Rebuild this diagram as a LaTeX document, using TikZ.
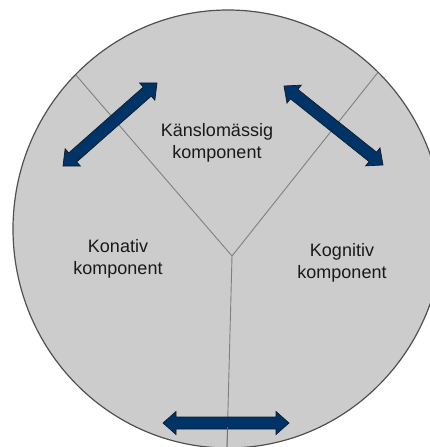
\documentclass[tikz,border=0pt]{standalone}
\usepackage{fontspec}
\setmainfont{Liberation Sans}
\usetikzlibrary{calc}
\definecolor{disc}{RGB}{204,204,204}
\definecolor{rim}{RGB}{80,80,80}
\definecolor{divider}{RGB}{128,128,128}
\definecolor{navy}{RGB}{0,51,102}
\definecolor{navyedge}{RGB}{15,28,45}
\tikzset{
  arrowbody/.style={fill=navy, draw=navyedge, line width=0.7pt, line join=miter},
  rimline/.style={draw=rim, line width=1.2pt},
  divline/.style={draw=divider, line width=0.9pt},
  label/.style={align=center, font=\fontsize{18}{22}\selectfont, text=black!90, inner sep=0pt}
}
\newcommand\blockarrow[2]{%
  \path ($(#1)!13pt!(#2)$) coordinate (#1h) ($(#2)!13pt!(#1)$) coordinate (#2h);
  \filldraw[arrowbody] (#1) -- ($(#1h)!11.5pt!90:(#2)$) -- ($(#1h)!6pt!90:(#2)$)
    -- ($(#2h)!6pt!-90:(#1)$) -- ($(#2h)!11.5pt!-90:(#1)$) -- (#2)
    -- ($(#2h)!11.5pt!90:(#1)$) -- ($(#2h)!6pt!90:(#1)$)
    -- ($(#1h)!6pt!-90:(#2)$) -- ($(#1h)!11.5pt!-90:(#2)$) -- cycle;}
\begin{document}
\begin{tikzpicture}[x=1pt,y=-1pt]
\useasboundingbox (0,0) rectangle (430,447);
\clip (0,0) rectangle (430,447);
\coordinate (c) at (228,229);
\fill[disc] (c) ellipse [x radius=215pt, y radius=219pt];
\coordinate (j) at (232,256);
\coordinate (lend) at (29,20.7);
\coordinate (rend) at (419,20.7);
\coordinate (bend) at (226.4,470);
\begin{scope}
  \clip (c) ellipse [x radius=215pt, y radius=219pt];
  \draw[divline] (lend) -- (j) -- (rend);
  \draw[divline] (j) -- (bend);
\end{scope}
\draw[rimline] (c) ellipse [x radius=215pt, y radius=219pt];
\coordinate (a1) at (63,166);
\coordinate (a2) at (157,83);
\coordinate (b1) at (284,86);
\coordinate (b2) at (383,165);
\coordinate (d1) at (163,423);
\coordinate (d2) at (289,423);
\blockarrow{a1}{a2}
\blockarrow{b1}{b2}
\blockarrow{d1}{d2}
\begin{scope}
  \clip (c) ellipse [x radius=215pt, y radius=219pt];
  \draw[divider!70!navy, line width=0.6pt] ($(j)!0.8!(bend)$) -- (bend);
\end{scope}
\node[label] (kans) at (217,143) {Känslomässig\\komponent};
\node[label] (kon) at (118,258.5) {Konativ\\komponent};
\node[label] (kog) at (342,263) {Kognitiv\\komponent};
\end{tikzpicture}
\end{document}
